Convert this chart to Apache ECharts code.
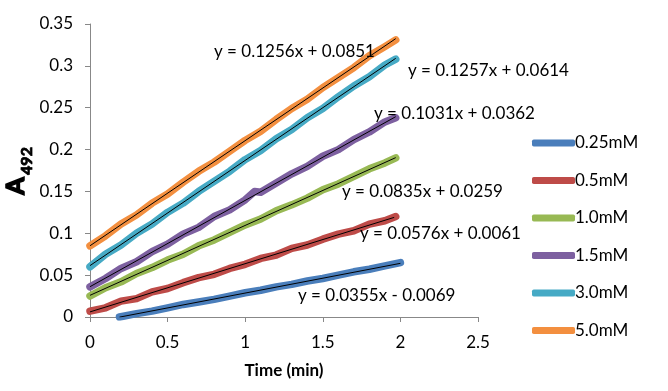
<!DOCTYPE html>
<html>
<head>
<meta charset="utf-8">
<script src="https://cdn.jsdelivr.net/npm/echarts@6/dist/echarts.min.js"></script>
<style>html,body{margin:0;padding:0;background:#fff;}#c{width:668px;height:391px;}</style>
</head>
<body>
<div id="c"></div>
<script>
var seriesNames = ['0.25mM','0.5mM','1.0mM','1.5mM','3.0mM','5.0mM'];
var colors = ['#4A7EBB','#BE4B48','#98B954','#7D60A0','#46AAC5','#F38F3F'];
var xMain = [0,0.1,0.2,0.3,0.4,0.5,0.6,0.7,0.8,0.9,1.0,1.1,1.2,1.3,1.4,1.5,1.6,1.7,1.8,1.9,1.97];
var xBlue = [0.19,0.3,0.4,0.5,0.6,0.7,0.8,0.9,1.0,1.1,1.2,1.3,1.4,1.5,1.6,1.7,1.8,1.9,2.0];
var xPurple = [0,0.1,0.2,0.3,0.4,0.5,0.6,0.7,0.8,0.9,1.0,1.06,1.1,1.2,1.3,1.4,1.5,1.6,1.7,1.8,1.9,1.97];
var yBlue   = [0.000,0.004,0.007,0.011,0.015,0.018,0.021,0.025,0.029,0.032,0.036,0.039,0.043,0.046,0.050,0.054,0.057,0.061,0.065];
var yRed    = [0.007,0.011,0.019,0.022,0.030,0.034,0.041,0.047,0.051,0.058,0.063,0.070,0.074,0.082,0.086,0.093,0.099,0.103,0.111,0.115,0.120];
var yGreen  = [0.025,0.035,0.042,0.052,0.059,0.068,0.075,0.085,0.092,0.101,0.110,0.117,0.127,0.134,0.142,0.152,0.159,0.168,0.177,0.184,0.190];
var yPurple = [0.036,0.046,0.058,0.066,0.078,0.087,0.099,0.107,0.120,0.128,0.140,0.150,0.149,0.160,0.171,0.180,0.192,0.200,0.212,0.221,0.233,0.238];
var yCyan   = [0.060,0.075,0.086,0.100,0.111,0.125,0.136,0.150,0.162,0.174,0.188,0.199,0.213,0.224,0.238,0.249,0.263,0.276,0.287,0.301,0.308];
var yOrange = [0.085,0.097,0.111,0.122,0.136,0.147,0.161,0.174,0.185,0.198,0.211,0.222,0.236,0.249,0.260,0.274,0.286,0.298,0.312,0.323,0.331];
var slopes = [0.0355,0.0576,0.0835,0.1031,0.1257,0.1256];
var intercepts = [-0.0069,0.0061,0.0259,0.0362,0.0614,0.0851];
var trendStart = [0.19,0,0,0,0,0];
var trendEnd = [2.0,1.96,1.97,1.97,1.97,1.97];
var equations = ['y = 0.0355x - 0.0069','y = 0.0576x + 0.0061','y = 0.0835x + 0.0259','y = 0.1031x + 0.0362','y = 0.1257x + 0.0614','y = 0.1256x + 0.0851'];
var xTicks = [0,0.5,1,1.5,2,2.5];

var xs = [xBlue,xMain,xMain,xPurple,xMain,xMain];
var ys = [yBlue,yRed,yGreen,yPurple,yCyan,yOrange];
var eqPos = [[298,297],[360,235],[342,193],[374,115],[408,72],[214,53]];

function zip(a,b){return a.map(function(v,i){return [v,b[i]];});}
var series = [];
for (var i=0;i<6;i++){
  series.push({name:seriesNames[i],type:'line',data:zip(xs[i],ys[i]),showSymbol:false,symbol:'none',
    lineStyle:{color:colors[i],width:7.5,cap:'round',join:'round'},itemStyle:{color:colors[i]},z:2,silent:true});
}
for (var i=0;i<6;i++){
  series.push({name:'trend'+i,type:'line',symbol:'none',
    data:[[trendStart[i],slopes[i]*trendStart[i]+intercepts[i]],[trendEnd[i],slopes[i]*trendEnd[i]+intercepts[i]]],
    lineStyle:{color:'#000',width:1},z:3,silent:true});
}
var font = 'Lato, "Open Sans", sans-serif';
var graphics = equations.map(function(t,i){
  return {type:'text',left:eqPos[i][0],top:eqPos[i][1]-10,z:10,style:{text:t,font:'17px Lato',fill:'#000'}};
});
graphics.push({type:'text',x:16,y:186,rotation:Math.PI/2,z:10,style:{text:'A',font:'bold 25px Lato',fill:'#000',stroke:'#000',lineWidth:1.6,align:'center',verticalAlign:'middle'}});
graphics.push({type:'text',x:27,y:161,rotation:Math.PI/2,z:10,style:{text:'492',font:'bold 16px Lato',fill:'#000',stroke:'#000',lineWidth:0.8,align:'center',verticalAlign:'middle'}});

var chart = echarts.init(document.getElementById('c'),null,{renderer:'canvas'});
chart.setOption({
  animation:false,
  backgroundColor:'#fff',
  grid:{left:90,right:190,top:24,bottom:74,containLabel:false},
  xAxis:{type:'value',min:0,max:2.5,interval:0.5,
    name:'Time (min)',nameLocation:'middle',nameGap:45,
    nameTextStyle:{fontFamily:font,fontSize:17,fontWeight:'bold',color:'#000'},
    axisLine:{lineStyle:{color:'#888',width:1}},
    axisTick:{show:true,length:5,lineStyle:{color:'#888'}},
    splitLine:{show:false},
    axisLabel:{fontFamily:font,fontSize:17,color:'#000',margin:17}},
  yAxis:{type:'value',min:0,max:0.35,interval:0.05,
    axisLine:{show:true,lineStyle:{color:'#888',width:1}},
    axisTick:{show:true,length:5,lineStyle:{color:'#888'}},
    splitLine:{show:false},
    axisLabel:{fontFamily:font,fontSize:17,color:'#000',margin:17}},
  legend:{orient:'vertical',left:527,top:128,data:seriesNames.map(function(n){return {name:n,icon:'roundRect'};}),
    itemWidth:43,itemHeight:7,itemGap:17.5,selectedMode:false,
    textStyle:{fontFamily:font,fontSize:17,color:'#000',lineHeight:20,padding:[0,0,0,-5]}},
  graphic:graphics,
  series:series
});
</script>
</body>
</html>
